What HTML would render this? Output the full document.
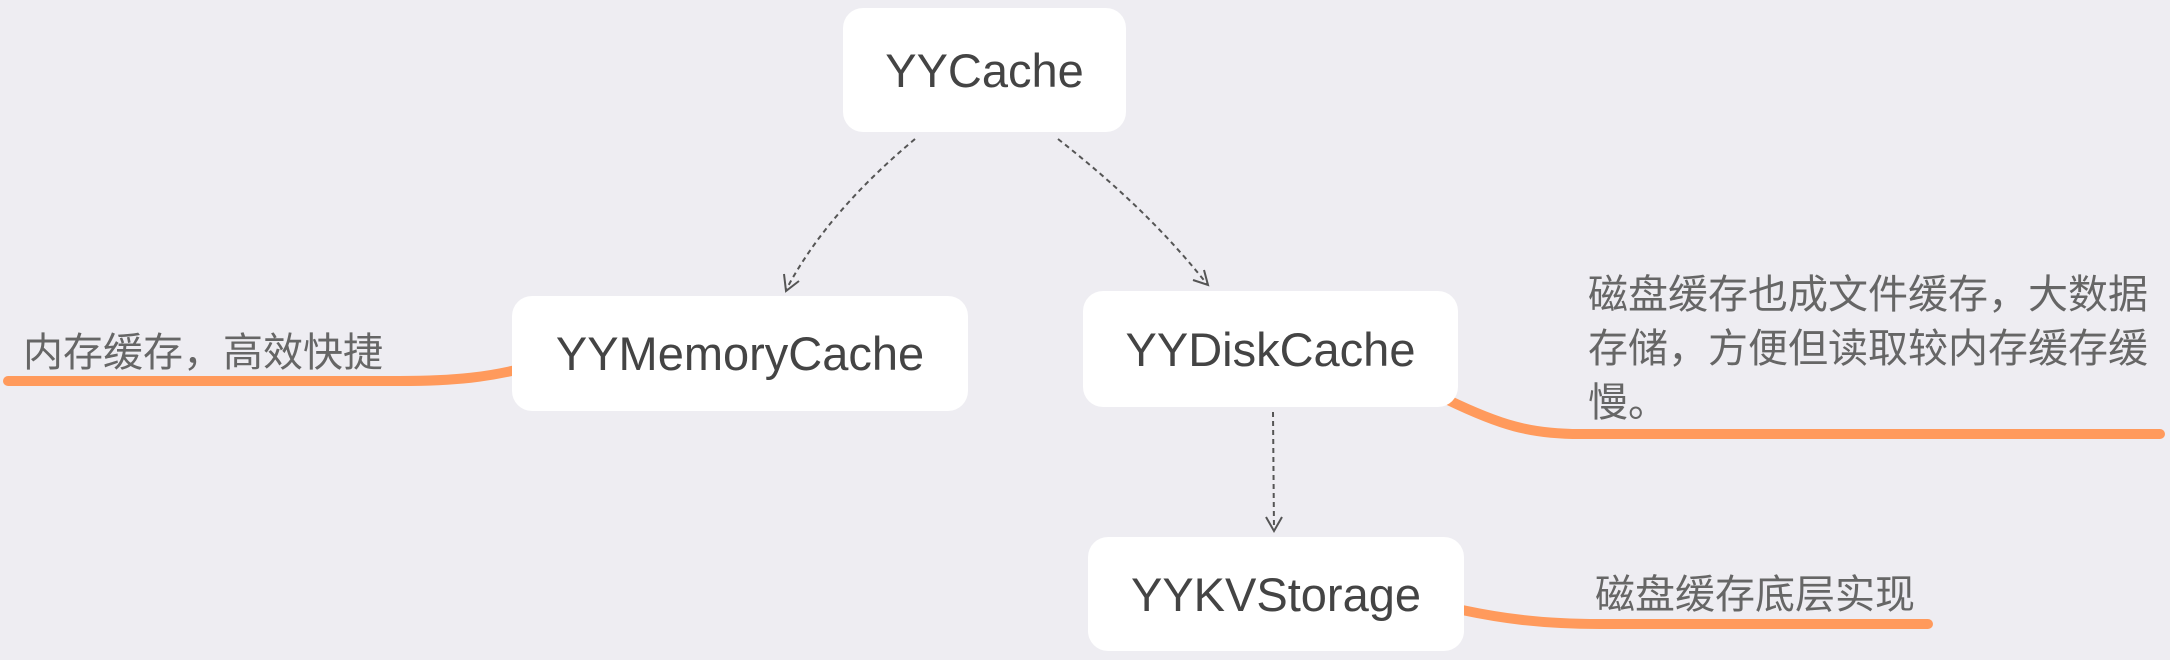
<!DOCTYPE html>
<html><head><meta charset="utf-8"><style>
html,body{margin:0;padding:0;background:#eeedf2;}
body{width:2170px;height:660px;position:relative;overflow:hidden;font-family:"Liberation Sans","Noto Sans CJK SC",sans-serif;}
.box{position:absolute;background:#fff;border-radius:20px;display:flex;align-items:center;justify-content:center;color:#444;font-size:47px;}
.lbl{position:absolute;color:#666;font-size:40px;line-height:54px;white-space:nowrap;font-family:"Liberation Sans","Noto Sans CJK SC",sans-serif;}
svg{position:absolute;left:0;top:0;}
</style></head><body>
<svg width="2170" height="660">
<g fill="none" stroke="#ff9a5c" stroke-width="10" stroke-linecap="round">
<path d="M8 381 L400 381 C460 381 490 376 516 370"/>
<path d="M1448 400 C1500 425 1530 434 1580 434 L2160 434"/>
<path d="M1462 610 C1500 618 1540 624 1600 624 L1928 624"/>
</g>
<g fill="none" stroke="#555" stroke-width="2" stroke-dasharray="5 4">
<path d="M915 139 C860 185 815 235 786 290"/>
<path d="M1058 139 C1110 180 1160 225 1207 284"/>
<path d="M1273 412 L1274 530"/>
</g>
<g fill="none" stroke="#555" stroke-width="2">
<path d="M784 274 L786 291 L799 281"/>
<path d="M1193 280 L1208 285 L1204 270"/>
<path d="M1266 517 L1274 531 L1282 517"/>
</g>
</svg>
<div class="box" style="left:843px;top:8px;width:283px;height:124px;">YYCache</div>
<div class="box" style="left:512px;top:296px;width:456px;height:115px;">YYMemoryCache</div>
<div class="box" style="left:1083px;top:291px;width:375px;height:116px;">YYDiskCache</div>
<div class="box" style="left:1088px;top:537px;width:376px;height:114px;">YYKVStorage</div>
<div class="lbl" style="left:23px;top:326px;">内存缓存，高效快捷</div>
<div class="lbl" style="left:1588px;top:268px;">磁盘缓存也成文件缓存，大数据<br>存储，方便但读取较内存缓存缓<br>慢。</div>
<div class="lbl" style="left:1595px;top:568px;">磁盘缓存底层实现</div>
</body></html>
